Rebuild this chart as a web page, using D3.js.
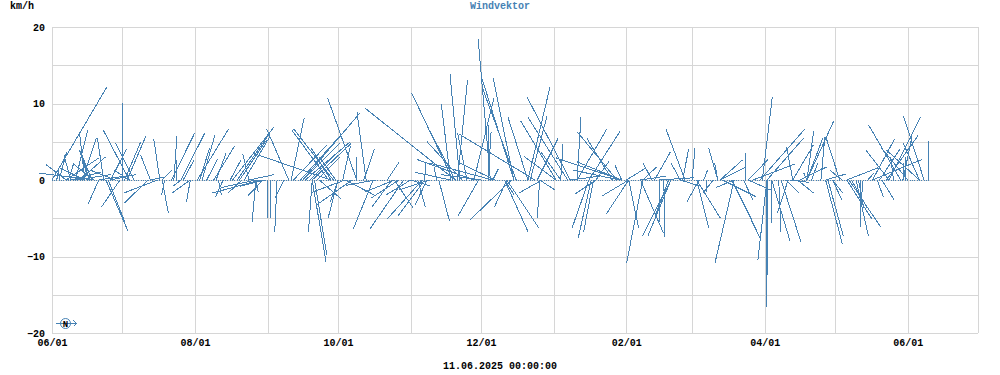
<!DOCTYPE html>
<html>
<head>
<meta charset="utf-8">
<script src="https://cdn.jsdelivr.net/npm/d3@7"></script>
<style>
    html, body { margin: 0; padding: 0; background: #fff; }
    text { font-family: "Liberation Mono", "DejaVu Sans Mono", monospace; font-size: 10px; font-weight: bold; fill: #000; }
</style>
</head>
<body>
<div id="chart"></div>
<script>
const startDate = new Date(Date.UTC(2024, 5, 1));
const endDate = new Date(Date.UTC(2025, 6, 1));
const stampLabel = "11.06.2025 00:00:00";
const yGrid = [-20, -15, -10, -5, 0, 5, 10, 15, 20];
const yLabels = [-20, -10, 0, 10, 20];
const sampleCount = 375;

// vectors pointing north: day since startDate, east part, north part (km/h)
const northDay = [
    0, 6, 18, 14, 10, 13, 22, 3, 8, 12,
    6, 33, 35, 30, 25, 32, 31, 42, 46, 47,
    52, 51, 55, 64, 62, 69, 56, 63, 66, 70,
    84, 76, 119, 101, 77, 79, 82, 80, 118, 120,
    102, 130, 119, 121, 106, 103, 107, 110, 113, 108,
    111, 124, 2, 16, 17, 7, 53, 107, 134, 133,
    130, 172, 143, 171, 170, 174, 173, 172, 175, 177,
    206, 180, 188, 189, 159, 164, 187, 197, 198, 197,
    180, 186, 186, 203, 188, 221, 203, 204, 220, 215,
    215, 207, 217, 224, 241, 239, 224, 229, 232, 243,
    243, 242, 243, 256, 245, 252, 270, 257, 269, 268,
    273, 284, 284, 278, 285, 296, 285, 297, 303, 302,
    305, 299, 316, 316, 322, 322, 322, 328, 336, 319,
    322, 324, 330, 337, 339, 362, 357, 365, 370, 372,
    357, 356, 363, 357, 370, 350, 353, 350, 374, 374,
    359, 364, 363, 348, 217, 20, 25, 42, 84, 170,
    183, 221, 251, 259, 8, 10, 14, 18, 27, 33
];
const northEast = [
    7.2, -2.6, -7.2, -0.7, 1.6, 1.8, -0.8, 1.0, -0.9, 3.3,
    4.3, -3.4, -2.4, 0, 2.1, 2.5, 2.1, -1.3, -0.8, 1.3,
    0.4, 3.0, 3.1, 1.7, 4.1, 2.7, 1.4, 1.3, 1.4, 1.3,
    -0.8, 1.4, -10.2, -2.9, 5.4, 4.1, 3.3, 3.5, -4.8, -5.2,
    1.7, -3.8, -2.6, -2.1, 5.2, 4.4, 4.8, 3.9, 3.0, 5.9,
    5.1, 1.0, 0.3, -1.3, -1.2, 0.7, 0, 7.5, -1.2, 1.4,
    0, -11.8, 1.6, -5.4, -1.2, -1.3, 1.3, -3.3, -4.6, -1.2,
    -9.9, -7.5, -8.2, -4.6, 0.1, -0.3, -1.6, -4.3, -4.4, -2.7,
    2.6, 0, 0.4, -2.6, 0.7, -5.6, 2.9, 2.2, -5.2, -4.6,
    -4.2, 2.7, 0.3, 0.5, -5.2, -3.3, 3.9, 4.1, 1.7, -0.9,
    -5.9, -6.1, -8.6, -1.2, 2.6, 1.8, -2.5, 2.1, 0.8, -1.2,
    0.4, -1.2, -0.4, 0.5, 2.9, 0, 3.4, 2.6, 1.3, 5.9,
    4.8, 5.5, -0.8, 2.7, 0.9, 3.5, 2.1, 0.5, -1.8, 3.5,
    -0.4, 0.8, 2.7, -1.6, 4.1, -4.2, -3.0, -3.5, -4.3, -2.7,
    4.1, 4.1, 1.2, 2.4, -2.1, 2.9, 2.7, 6.5, 0, 0,
    -0.4, 0, 0.1, 0.8, -2.6, 3.3, 3.3, 2.0, 3.3, -4.6,
    -5.2, 3.9, 3.3, 4.6, 3.9, 4.6, -3.3, -2.6, -3.3, -2.0
];
const northNorth = [
    12.2, 2.0, 0.9, 6.3, 6.5, 5.5, 5.5, 3.7, 3.3, 3.0,
    2.9, 6.5, 4.8, 10.1, 4.1, 5.8, 5.0, 3.3, 5.4, 1.3,
    5.8, 6.1, 6.1, 5.9, 6.7, 4.4, 2.6, 4.2, 2.7, 3.5,
    3.4, 2.6, 3.5, 6.7, 6.9, 5.9, 5.6, 5.2, 6.5, 6.7,
    8.1, 10.7, 4.2, 3.0, 5.8, 4.6, 4.8, 3.9, 3.0, 5.0,
    4.8, 4.4, 1.3, 3.9, 3.0, 2.2, 2.6, 8.8, 8.9, 4.1,
    3.0, 9.4, 2.4, 11.4, 9.9, 13.9, 13.1, 6.4, 5.0, 6.1,
    6.0, 2.7, 2.2, 2.2, 2.2, 1.7, 18.4, 13.7, 12.0, 13.3,
    10.7, 7.2, 6.3, 8.2, 1.4, 10.8, 12.2, 8.4, 8.2, 7.7,
    3.1, 5.4, 4.7, 8.2, 6.3, 5.4, 6.7, 6.4, 2.4, 2.0,
    2.4, 1.3, 2.9, 2.2, 1.6, 1.7, 6.7, 3.7, 4.1, 2.2,
    4.2, 4.2, 2.2, 1.3, 2.6, 3.5, 1.7, 2.7, 10.8, 6.7,
    5.5, 2.1, 4.3, 4.6, 6.4, 7.7, 5.5, 5.6, 5.6, 1.7,
    0.9, 2.2, 0.8, 1.3, 1.6, 7.2, 3.9, 4.3, 3.9, 8.4,
    8.2, 5.8, 5.8, 4.8, 4.8, 5.4, 4.1, 2.7, 5.1, 3.1,
    3.0, 3.0, 2.2, 0.9, 3.7, 0.5, 0.7, 0.4, 0.7, 1.0,
    0.7, 0.5, 0.5, 0.3, 1.0, 0.7, 1.6, 2.0, 1.3, 1.3
];

// vectors pointing south
const southDay = [
    20, 29, 23, 24, 45, 41, 48, 47, 59, 59,
    55, 89, 73, 71, 81, 90, 87, 87, 92, 92,
    93, 96, 99, 111, 111, 112, 122, 128, 125, 137,
    150, 158, 159, 145, 146, 156, 160, 114, 125, 122,
    165, 182, 196, 193, 194, 194, 209, 208, 229, 230,
    231, 232, 246, 246, 252, 246, 264, 264, 251, 261,
    259, 263, 276, 275, 275, 291, 282, 279, 291, 305,
    290, 290, 286, 295, 305, 305, 307, 310, 311, 307,
    314, 313, 318, 315, 330, 331, 333, 333, 345, 343,
    340, 339, 341, 346, 352, 354, 344, 138, 146, 148,
    153, 161, 153, 91, 87, 268, 297, 193, 208
];
const southEast = [
    -1.4, -2.4, 2.9, 2.2, -4.4, -3.1, -0.4, 0.8, -2.4, -0.5,
    -1.0, -6.3, -1.0, 0.4, -1.8, -2.0, -0.5, 0.3, 0, 0,
    0, -0.3, -1.2, -0.5, 1.8, 1.6, -1.3, -4.7, -4.3, -2.6,
    -4.4, -4.6, -3.5, -2.6, 2.5, 1.0, -1.6, 2.9, 3.9, -1.0,
    1.4, -2.7, -5.4, 3.1, 4.2, -1.6, -3.0, -0.3, -2.2, -1.7,
    -1.3, -2.7, -3.5, -2.9, -2.1, 1.3, -3.7, -3.0, 3.0, 0.1,
    0, -1.7, -1.6, 1.6, 3.1, -2.4, -1.3, 0, -2.5, -1.2,
    3.8, 2.6, 4.4, 1.2, -0.1, 0, 2.4, 0.3, 2.6, 0,
    -1.4, 1.7, 2.1, 2.4, 2.2, 2.0, 1.2, 1.3, 0, 1.6,
    4.1, 3.3, 2.1, -0.4, 0.8, 1.6, 0.7, -3.9, -3.9, -3.7,
    -3.3, -3.9, 2.6, -3.3, -4.6, 2.6, 2.9, 1.3, 2.0
];
const southNorth = [
    -3.1, -3.5, -6.7, -5.6, -1.7, -3.0, -2.0, -4.3, -1.7, -2.9,
    -0.8, -1.7, -2.2, -2.0, -1.7, -2.1, -5.5, -1.6, -3.7, -5.0,
    -5.0, -6.8, -2.4, -6.8, -10.7, -9.8, -5.0, -3.3, -1.6, -6.4,
    -6.4, -5.1, -4.7, -3.5, -3.7, -3.5, -3.3, -2.5, -2.0, -2.9,
    -5.4, -4.7, -5.2, -6.8, -6.3, -3.5, -1.7, -5.0, -6.3, -7.6,
    -6.8, -1.8, -2.1, -4.4, -10.8, -6.3, -7.3, -7.3, -6.9, -7.5,
    -5.5, -4.6, -2.9, -6.3, -5.0, -1.0, -1.7, -1.6, -10.8, -10.5,
    -7.8, -5.2, -2.2, -2.6, -16.6, -12.4, -8.0, -6.8, -8.1, -5.6,
    -4.3, -1.7, -1.7, -0.3, -8.4, -7.3, -2.6, -1.7, -6.1, -7.3,
    -6.1, -5.1, -3.7, -4.3, -2.2, -2.6, -3.7, -0.7, -1.6, -2.4,
    -2.0, -1.3, -0.8, -0.8, -1.0, -0.8, -1.3, -2.0, -1.3
];

const northVectors = northDay.map((d, i) => ({day: d, east: northEast[i], north: northNorth[i]}));
const southVectors = southDay.map((d, i) => ({day: d, east: southEast[i], north: southNorth[i]}));
const vectors = northVectors.concat(southVectors);

const width = 1000, height = 375;
const lineColor = "#4682b4";
const gridColor = "#d6d6d6";

const svg = d3.select("#chart").append("svg")
    .attr("width", width)
    .attr("height", height)
    .style("display", "block");

// d3 axes add their own half pixel, so the ranges stay on whole pixels
const x = d3.scaleUtc().domain([startDate, endDate]).range([52, 978]);
const y = d3.scaleLinear().domain([-20, 20]).range([333, 27]);
const dayDate = (d) => d3.utcDay.offset(startDate, d);
// east part uses the same km/h-to-pixel ratio as the y axis
const eastPx = (v) => y(0) - y(v);
const formatMonth = d3.utcFormat("%m/%d");

const months = d3.utcMonth.range(startDate, d3.utcDay.offset(endDate, 1));

svg.append("g")
    .attr("class", "x-grid")
    .attr("transform", `translate(0,${y(-20)})`)
    .call(d3.axisBottom(x).tickValues(months).tickSize(y(20) - y(-20)).tickSizeOuter(0)
        .tickFormat((d, i) => i % 2 === 0 && i < 13 ? formatMonth(d) : ""))
    .call(g => g.select(".domain").remove())
    .call(g => g.selectAll("line").attr("stroke", gridColor).attr("y1", 0).attr("y2", y(20) - y(-20)))
    .call(g => g.selectAll("text").attr("y", 6).attr("dy", "0.71em"));

svg.append("g")
    .attr("class", "y-grid")
    .attr("transform", `translate(${x.range()[0]},0)`)
    .call(d3.axisLeft(y).tickValues(yGrid).tickSize(x.range()[0] - x.range()[1])
        .tickFormat(d => yLabels.includes(d) ? d3.format("d")(d) : ""))
    .call(g => g.select(".domain").remove())
    .call(g => g.selectAll("line").attr("stroke", gridColor))
    .call(g => g.selectAll("text").attr("x", -7));

svg.selectAll("line").attr("shape-rendering", "crispEdges");

svg.append("g")
    .attr("fill", lineColor)
    .attr("shape-rendering", "crispEdges")
    .selectAll("rect")
    .data(d3.range(sampleCount))
    .join("rect")
        .attr("x", d => Math.floor(x(dayDate(d))))
        .attr("y", Math.floor(y(0)))
        .attr("width", 1)
        .attr("height", 1);

svg.append("g")
    .attr("stroke", lineColor)
    .attr("stroke-width", 1)
    .attr("shape-rendering", "crispEdges")
    .selectAll("line")
    .data(vectors)
    .join("line")
        .attr("x1", d => x(dayDate(d.day)))
        .attr("y1", y(0))
        .attr("x2", d => x(dayDate(d.day)) + eastPx(d.east))
        .attr("y2", d => y(d.north));

svg.append("text")
    .attr("x", 500)
    .attr("y", 9)
    .attr("text-anchor", "middle")
    .style("fill", lineColor)
    .text("Windvektor");

svg.append("text")
    .attr("x", 10)
    .attr("y", 9)
    .text("km/h");

svg.append("text")
    .attr("x", 500)
    .attr("y", 369)
    .attr("text-anchor", "middle")
    .text(stampLabel);

// compass mark, lower left corner
const compass = svg.append("g").attr("transform", "translate(65.5,323.5)");
compass.append("path")
    .attr("d", "M-9.5,0H11M8,-3L11,0L8,3")
    .attr("fill", "none")
    .attr("stroke", lineColor)
    .attr("shape-rendering", "crispEdges");
compass.append("circle")
    .attr("r", 5)
    .attr("fill", "none")
    .attr("stroke", lineColor);
compass.append("text")
    .attr("text-anchor", "middle")
    .attr("y", 3)
    .style("font-size", "9px")
    .text("N");
</script>
</body>
</html>
